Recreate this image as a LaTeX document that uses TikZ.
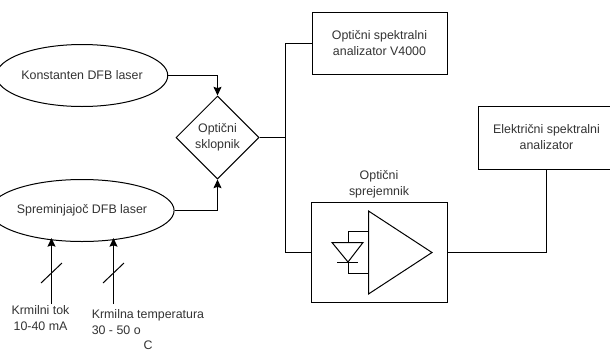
\documentclass[tikz,border=0pt]{standalone}
\usepackage{fontspec}
\setmainfont{Liberation Sans}
\usetikzlibrary{arrows.meta}
\usetikzlibrary{positioning}
\usetikzlibrary{shapes.geometric}
\definecolor{labelgray}{HTML}{333333}
\begin{document}
\begin{tikzpicture}[x=0.75pt,y=-0.75pt]
  \tikzset{
    block/.style={
      draw,
      rectangle,
      fill=white,
      inner sep=0pt,
      line width=0.75pt,
      align=center,
      text=labelgray,
      font=\fontsize{9.3pt}{12pt}\selectfont
    },
    laser/.style={
      block,
      ellipse,
      minimum width=109.5pt,
      minimum height=46.5pt
    },
    label/.style={
      inner sep=0pt,
      align=center,
      text=labelgray,
      font=\fontsize{9.3pt}{12pt}\selectfont
    },
    wire/.style={
      draw=black,
      line width=0.75pt
    },
    signal/.style={
      wire,
      -{Stealth[length=6.5pt, width=6pt, inset=1pt]}
    }
  }
  \useasboundingbox (0,0) rectangle (610,350);

  \node[laser] (laserA) at (82,75.5) {Konstanten DFB laser};
  \node[laser] (laserB) at (82,210.5) {Spreminjajoč DFB laser};
  \node[block, diamond, aspect=1, minimum width=62.25pt, minimum height=62.25pt] (switch) at (217.5,137.5) {Optični\\sklopnik};
  \node[block, minimum width=101.25pt, minimum height=46.5pt] (osa) at (379.5,43.5) {Optični spektralni\\analizator V4000};
  \node[block, minimum width=102pt, minimum height=75pt] (rx) at (379.5,252.5) {};
  \node[block, minimum width=102pt, minimum height=47.25pt] (esa) at (546.5,137.5) {Električni spektralni\\analizator};
  \node[label] (rxlabel) at (379,184) {Optični\\sprejemnik};

  % krmilni vhodi
  \coordinate (tokin) at (51.5,304);
  \coordinate (tokend) at (51.5,238);
  \coordinate (tempin) at (113.5,304);
  \coordinate (tempend) at (113.5,238);
  \coordinate (tokA) at (41,283);
  \coordinate (tokB) at (62,263);
  \coordinate (tempA) at (103,283);
  \coordinate (tempB) at (124,263);
  \node[label] (toklabel) at (40.5,318) {Krmilni tok\\10-40 mA};
  \node[label, anchor=west] (templabel) at (91.5,315.5) {Krmilna temperatura};
  \node[label, anchor=west] (tempval) at (91.5,330) {30 - 50 o};
  \node[label] (tempunit) at (148,345) {C};

  % ojacevalnik in dioda
  \coordinate (ampA) at (368.5,211);
  \coordinate (ampB) at (368.5,294);
  \coordinate (ampC) at (432,252.5);
  \coordinate (diodeA) at (332,242.5);
  \coordinate (diodeB) at (363,242.5);
  \coordinate (diodeC) at (348,262);
  \coordinate (barA) at (337,262.5);
  \coordinate (barB) at (358,262.5);
  \coordinate (wireA) at (348,231.5);
  \coordinate (wireB) at (368.5,231.5);
  \coordinate (wireC) at (348,273.5);
  \coordinate (wireD) at (368.5,273.5);
  \coordinate (diodetop) at (348,242.5);
  \draw[wire] (ampA) -- (ampB) -- (ampC) -- cycle;
  \draw[wire] (diodeA) -- (diodeB) -- (diodeC) -- cycle;
  \draw[wire] (barA) -- (barB);
  \draw[wire] (diodetop) -- (wireA) -- (wireB);
  \draw[wire] (diodeC) -- (wireC) -- (wireD);

  \coordinate (fork) at (285.5,137.5);
  \draw[signal] (laserA.east) -| (switch.north);
  \draw[signal] (laserB.east) -| (switch.south);
  \draw[wire] (switch.east) -- (fork);
  \draw[wire] (fork) |- (osa.west);
  \draw[wire] (fork) |- (rx.west);
  \draw[wire] (rx.east) -| (esa.south);
  \draw[signal] (tokin) -- (tokend);
  \draw[signal] (tempin) -- (tempend);
  \draw[wire] (tokA) -- (tokB);
  \draw[wire] (tempA) -- (tempB);
\end{tikzpicture}
\end{document}
